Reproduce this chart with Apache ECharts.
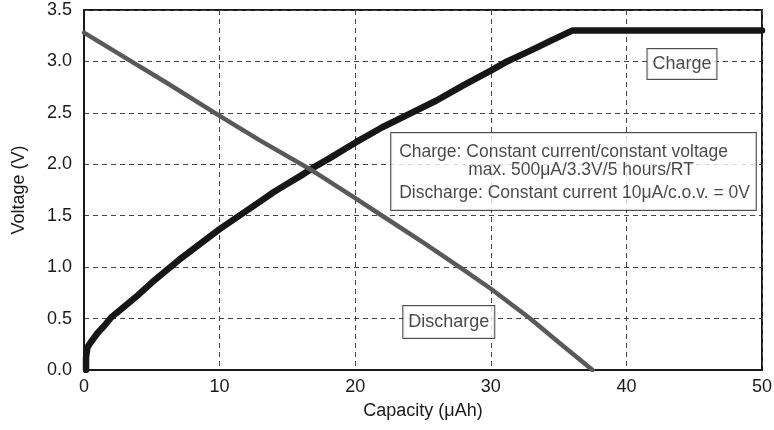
<!DOCTYPE html>
<html>
<head>
<meta charset="utf-8">
<script src="https://cdn.jsdelivr.net/npm/echarts@6/dist/echarts.min.js"></script>
<style>
  html, body { margin: 0; padding: 0; background: #fff; }
  #chart { width: 774px; height: 430px; }
</style>
</head>
<body>
<div id="chart"></div>
<script>
// Charge curve: capacity (µAh) vs voltage (V)
const chargeCapacity = [0.15, 0.15, 0.25, 0.5, 1, 1.5, 2, 3, 4, 5, 6, 7, 8, 9, 10, 11, 12, 13, 14, 15, 16, 17.2, 18, 20, 22, 24.3, 26, 28, 30, 31.2, 33, 34.4, 36, 50];
const chargeVoltage  = [0, 0.12, 0.22, 0.27, 0.36, 0.43, 0.51, 0.62, 0.73, 0.85, 0.96, 1.07, 1.17, 1.27, 1.37, 1.46, 1.55, 1.64, 1.73, 1.81, 1.89, 1.99, 2.05, 2.21, 2.36, 2.51, 2.62, 2.77, 2.91, 3.0, 3.11, 3.2, 3.3, 3.3];

// Discharge curve: capacity (µAh) vs voltage (V)
const dischargeCapacity = [0, 3, 6, 10, 13, 16.7, 20, 22.1, 25, 27.7, 30, 32.9, 35, 37.5];
const dischargeVoltage  = [3.28, 3.04, 2.8, 2.47, 2.23, 1.95, 1.67, 1.49, 1.24, 1.0, 0.79, 0.5, 0.27, 0];

// Axis ticks
const xTicks = [0, 10, 20, 30, 40, 50];
const yTicks = [0.0, 0.5, 1.0, 1.5, 2.0, 2.5, 3.0, 3.5];

const FONT = '"Liberation Sans", Arial, Helvetica, sans-serif';
const TXT = '#1a1a1a';

const pairs = (xs, ys) => xs.map((x, i) => [x, ys[i]]);

const chart = echarts.init(document.getElementById('chart'), null, { renderer: 'canvas' });

const gridLine = { show: true, lineStyle: { color: '#444', width: 1, type: [5, 4] } };
const boxText = { fontFamily: FONT, fontSize: 17.5, color: TXT, align: 'left' };

chart.setOption({
  animation: false,
  backgroundColor: '#ffffff',
  grid: {
    left: 84, right: 12, top: 10, bottom: 60,
    outerBoundsMode: 'none', containLabel: false,
    show: true, borderColor: '#1a1a1a', borderWidth: 2, backgroundColor: 'transparent'
  },
  xAxis: {
    type: 'value',
    min: xTicks[0], max: xTicks[xTicks.length - 1], interval: 10,
    name: 'Capacity (μAh)', nameLocation: 'middle', nameGap: 32,
    nameTextStyle: { fontFamily: FONT, fontSize: 18, color: TXT },
    axisLine: { show: true, lineStyle: { color: '#1a1a1a', width: 2 } },
    axisTick: { show: false },
    axisLabel: { fontFamily: FONT, fontSize: 18, color: TXT, margin: 8 },
    splitLine: gridLine
  },
  yAxis: {
    type: 'value',
    min: yTicks[0], max: yTicks[yTicks.length - 1], interval: 0.5,
    name: 'Voltage (V)', nameLocation: 'middle', nameGap: 56,
    nameTextStyle: { fontFamily: FONT, fontSize: 18, color: TXT },
    axisLine: { show: true, lineStyle: { color: '#1a1a1a', width: 2 } },
    axisTick: { show: false },
    axisLabel: { fontFamily: FONT, fontSize: 18, color: TXT, margin: 12, formatter: v => v.toFixed(1) },
    splitLine: gridLine
  },
  series: [
    {
      name: 'Charge', type: 'line', data: pairs(chargeCapacity, chargeVoltage),
      showSymbol: false, smooth: false, z: 3,
      lineStyle: { color: '#161616', width: 6.5, cap: 'round', join: 'round' }
    },
    {
      name: 'Discharge', type: 'line', data: pairs(dischargeCapacity, dischargeVoltage),
      showSymbol: false, smooth: false, z: 4,
      lineStyle: { color: '#595959', width: 4.5, cap: 'round', join: 'round' }
    },
    {
      // boxed text annotations anchored in data space
      name: 'notes', type: 'scatter', symbolSize: 0, z: 6, silent: true,
      data: [
        {
          value: [44.1, 2.975],
          label: {
            show: true, position: 'inside', formatter: 'Charge',
            fontFamily: FONT, fontSize: 18, color: TXT, lineHeight: 20,
            backgroundColor: '#fff', borderColor: '#222', borderWidth: 1, padding: [5, 5, 5, 5]
          }
        },
        {
          value: [26.9, 0.467],
          label: {
            show: true, position: 'inside', formatter: 'Discharge',
            fontFamily: FONT, fontSize: 18, color: TXT, lineHeight: 20,
            backgroundColor: '#fff', borderColor: '#222', borderWidth: 1, padding: [6, 5, 6, 5]
          }
        },
        {
          value: [36.1, 1.93],
          label: {
            show: true, position: 'inside',
            formatter: '{a|Charge: Constant current/constant voltage}\n{b|max. 500μA/3.3V/5 hours/RT}\n{c|Discharge: Constant current 10μA/c.o.v. = 0V}',
            backgroundColor: '#fff', borderColor: '#222', borderWidth: 1, padding: [10, 6, 2, 8],
            rich: {
              a: Object.assign({ lineHeight: 18 }, boxText),
              b: Object.assign({ lineHeight: 18, padding: [0, 0, 0, 69] }, boxText),
              c: Object.assign({ lineHeight: 29 }, boxText)
            }
          }
        }
      ]
    }
  ]
});
</script>
</body>
</html>
